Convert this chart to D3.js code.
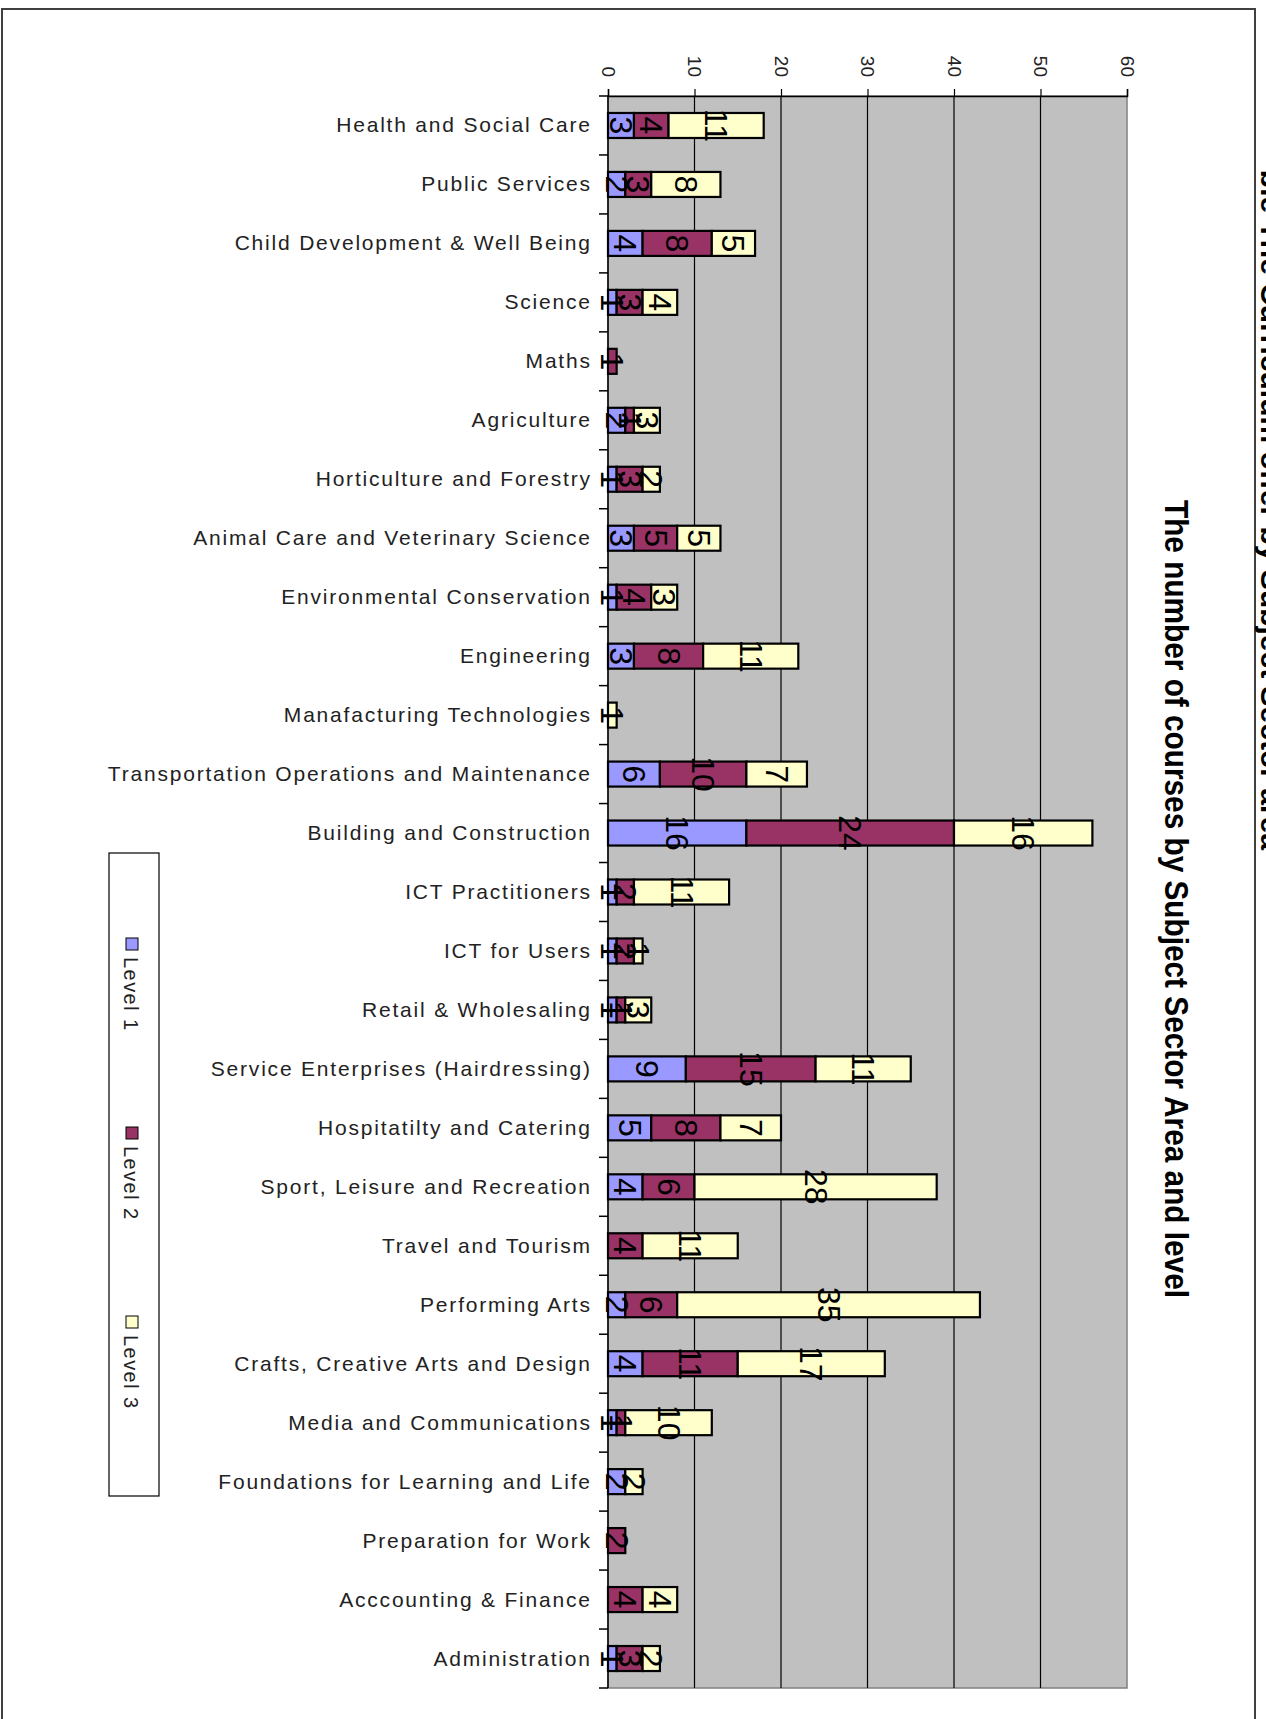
<!DOCTYPE html>
<html><head><meta charset="utf-8">
<script src="https://cdn.jsdelivr.net/npm/d3@7"></script>
<style>html,body{margin:0;padding:0;background:#fff;overflow:hidden}</style>
</head><body>
<svg id="c" width="1266" height="1719"></svg>
<script>
const categories = [
  "Health and Social Care","Public Services","Child Development & Well Being","Science","Maths",
  "Agriculture","Horticulture and Forestry","Animal Care and Veterinary Science","Environmental Conservation",
  "Engineering","Manafacturing Technologies","Transportation Operations and Maintenance","Building and Construction",
  "ICT Practitioners","ICT for Users","Retail & Wholesaling","Service Enterprises (Hairdressing)",
  "Hospitatilty and Catering","Sport, Leisure and Recreation","Travel and Tourism","Performing Arts",
  "Crafts, Creative Arts and Design","Media and Communications","Foundations for Learning and Life",
  "Preparation for Work","Acccounting & Finance","Administration"
];
const level1 = [3,2,4,1,0,2,1,3,1,3,0,6,16,1,1,1,9,5,4,0,2,4,1,2,0,0,1];
const level2 = [4,3,8,3,1,1,3,5,4,8,0,10,24,2,2,1,15,8,6,4,6,11,1,0,2,4,3];
const level3 = [11,8,5,4,0,3,2,5,3,11,1,7,16,11,1,3,11,7,28,11,35,17,10,2,0,4,2];
const seriesNames = ["Level 1","Level 2","Level 3"];
const seriesColors = ["#9999ff","#993366","#ffffcc"];
const valueTicks = [0,10,20,30,40,50,60];
const titleText = "The number of courses by Subject Sector Area and level";
const headerText = "ble The Curriculum offer by Subject Sector area";

(function(){
const svg = d3.select("#c");
const FONT = "'Liberation Sans', Arial, sans-serif";
svg.append("rect").attr("width",1266).attr("height",1719).attr("fill","#fff");

// outer frame
svg.append("rect").attr("x",2).attr("y",9).attr("width",1253).attr("height",1740)
  .attr("fill","none").attr("stroke","#404040").attr("stroke-width",2);

// clipped header text at the right edge
svg.append("text").attr("transform","translate(1261,850) rotate(90)")
  .attr("text-anchor","end").attr("font-family",FONT).attr("font-weight","bold")
  .attr("font-size",30).attr("fill","#000").text(headerText);

const x = d3.scaleLinear().domain([0,60]).range([608,1127]);
const y = d3.scaleBand().domain(categories).range([96,1688]).paddingInner(0.576).paddingOuter(0.288);
const step = y.step();
const pTop = 96, pBottom = 1688;

// plot area
svg.append("rect").attr("x",x(0)).attr("y",pTop).attr("width",x(60)-x(0)).attr("height",pBottom-pTop)
  .attr("fill","#c0c0c0").attr("stroke","#808080").attr("stroke-width",1.5);

// gridlines
svg.append("g").selectAll("line").data(valueTicks.filter(v=>v>0&&v<60)).join("line")
  .attr("x1",d=>x(d)).attr("x2",d=>x(d)).attr("y1",pTop).attr("y2",pBottom)
  .attr("stroke","#000").attr("stroke-width",1.2);

// value axis (top)
const gx = svg.append("g").attr("transform",`translate(0,${pTop})`)
  .call(d3.axisTop(x).tickValues(valueTicks).tickSize(7).tickFormat(""));
gx.select(".domain").attr("stroke","#000").attr("stroke-width",1.5);
gx.selectAll(".tick line").attr("stroke","#000").attr("stroke-width",1.2);

// category axis (left)
svg.append("line").attr("x1",x(0)).attr("x2",x(0)).attr("y1",pTop).attr("y2",pBottom)
  .attr("stroke","#000").attr("stroke-width",1.5);
const bounds = d3.range(categories.length+1).map(i=>pTop+i*step);
svg.append("g").selectAll("line").data(bounds).join("line")
  .attr("x1",x(0)-9).attr("x2",x(0)).attr("y1",d=>d).attr("y2",d=>d)
  .attr("stroke","#000").attr("stroke-width",1.5);

// category labels
const catG = svg.append("g").attr("font-family",FONT).attr("font-size",21).attr("fill","#222");
const catLabels = catG.selectAll("text").data(categories).join("text")
  .attr("x",590).attr("y",d=>y(d)+y.bandwidth()/2+7).attr("text-anchor","end").text(d=>d);
const longest = catLabels.filter(d=>d==="Transportation Operations and Maintenance").node();
const natural = longest.getComputedTextLength();
const ls = Math.max(0,(484-natural)/41);
catLabels.attr("letter-spacing",ls).attr("x",590+ls);

// tick labels (rotated)
svg.append("g").selectAll("text").data(valueTicks).join("text")
  .attr("transform",d=>`translate(${x(d)},77) rotate(90)`)
  .attr("text-anchor","end").attr("dominant-baseline","central")
  .attr("font-family",FONT).attr("font-size",19).attr("fill","#222").text(d=>d);

// stacked bars
const table = categories.map((c,i)=>({cat:c,"Level 1":level1[i],"Level 2":level2[i],"Level 3":level3[i]}));
const stacked = d3.stack().keys(seriesNames)(table);
const barG = svg.append("g");
stacked.forEach((s,si)=>{
  barG.append("g").selectAll("rect").data(s.filter(d=>d[1]-d[0]>0)).join("rect")
    .attr("x",d=>x(d[0])).attr("width",d=>x(d[1])-x(d[0]))
    .attr("y",d=>y(d.data.cat)).attr("height",y.bandwidth())
    .attr("fill",seriesColors[si]).attr("stroke","#000").attr("stroke-width",2.2);
});
stacked.forEach((s,si)=>{
  barG.append("g").selectAll("text").data(s.filter(d=>d[1]-d[0]>0)).join("text")
    .attr("transform",d=>`translate(${x((d[0]+d[1])/2)},${y(d.data.cat)+y.bandwidth()/2}) rotate(90)`)
    .attr("text-anchor","middle").attr("dominant-baseline","central")
    .attr("font-family",FONT).attr("font-size",32).attr("fill","#000")
    .text(d=>d[1]-d[0]);
});

// legend
const lg = svg.append("g");
lg.append("rect").attr("x",109).attr("y",853).attr("width",50).attr("height",643)
  .attr("fill","#fff").attr("stroke","#000").attr("stroke-width",1.2);
const legendY = d3.scalePoint().domain(seriesNames).range([944,1322]);
seriesNames.forEach((n,i)=>{
  const cy = legendY(n);
  lg.append("rect").attr("x",126).attr("y",cy-6).attr("width",12).attr("height",12)
    .attr("fill",seriesColors[i]).attr("stroke","#000").attr("stroke-width",1);
  lg.append("text").attr("transform",`translate(124,${cy+13}) rotate(90)`)
    .attr("font-family",FONT).attr("font-size",20).attr("fill","#222").attr("letter-spacing",ls*0.8).text(n);
});

// title
svg.append("text").attr("transform","translate(1165,899) rotate(90)")
  .attr("text-anchor","middle").attr("font-family","'Liberation Sans Narrow', 'Liberation Sans', Arial, sans-serif")
  .attr("font-weight","bold").attr("font-size",34)
  .attr("textLength",798).attr("lengthAdjust","spacingAndGlyphs").text(titleText);
})();
</script>
</body></html>
